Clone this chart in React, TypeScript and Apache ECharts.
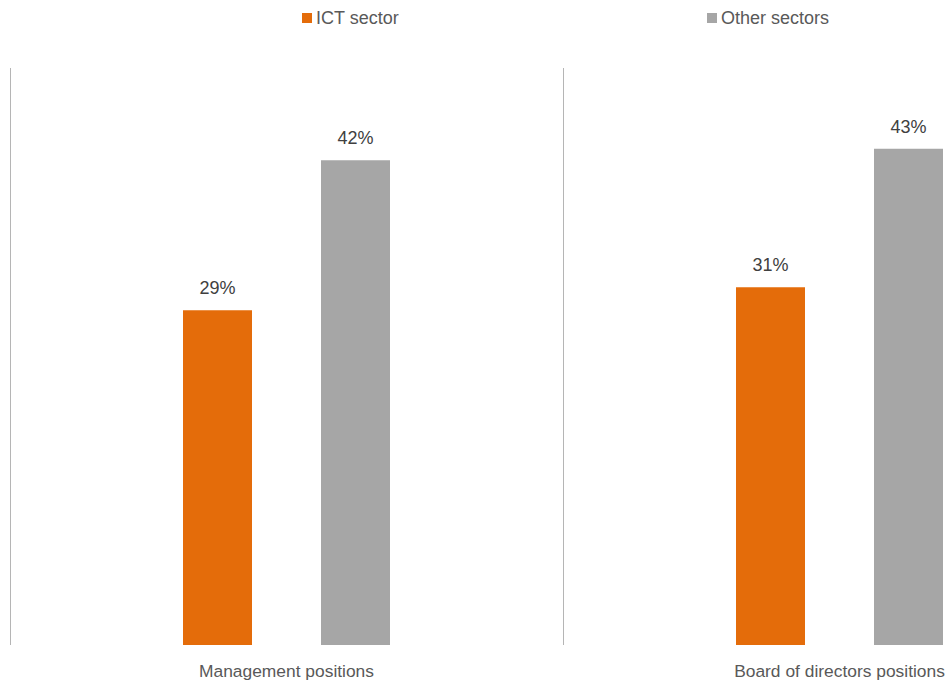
import React, { useEffect, useRef } from "react";
import * as echarts from "echarts";

const categories = ["Management positions", "Board of directors positions"];
const ictValues = [29, 31];
const otherValues = [42, 43];
const seriesNames = ["ICT sector", "Other sectors"];

const FONT = "'Liberation Sans', Arial, sans-serif";

export default function App() {
  const ref = useRef<HTMLDivElement>(null);
  useEffect(() => {
    if (!ref.current) return;
    const chart = echarts.init(ref.current, null, { renderer: "svg" });
    const labelStyle = {
      show: true,
      position: "top" as const,
      distance: 13,
      formatter: "{c}%",
      fontFamily: FONT,
      fontSize: 18,
      color: "#404040",
    };
    chart.setOption({
      animation: false,
      textStyle: { fontFamily: FONT },
      legend: [
        {
          data: [seriesNames[0]],
          left: 297,
          top: 4,
          itemWidth: 10,
          itemHeight: 10,
          itemGap: 5,
          icon: "rect",
          textStyle: { fontFamily: FONT, fontSize: 18, color: "#595959", padding: [0, 0, 0, -1] },
        },
        {
          data: [seriesNames[1]],
          left: 702,
          top: 4,
          itemWidth: 10,
          itemHeight: 10,
          icon: "rect",
          textStyle: { fontFamily: FONT, fontSize: 18, color: "#595959", padding: [0, 0, 0, -1] },
        },
      ],
      grid: {
        left: 10,
        top: 68,
        bottom: 38,
        width: 1106,
        containLabel: false,
        outerBoundsMode: "none",
      },
      xAxis: {
        type: "category",
        data: categories,
        boundaryGap: true,
        axisLine: { show: false },
        axisTick: { show: false },
        splitLine: { show: true, lineStyle: { color: "#b5b5b5", width: 1 } },
        axisLabel: { fontFamily: FONT, fontSize: 17.4, color: "#595959", margin: 17 },
      },
      yAxis: {
        type: "value",
        min: 0,
        max: 50,
        show: false,
        splitLine: { show: false },
      },
      series: [
        {
          name: seriesNames[0],
          type: "bar",
          data: ictValues,
          barWidth: 69,
          barGap: "100%",
          itemStyle: { color: "#E46C0A" },
          label: labelStyle,
        },
        {
          name: seriesNames[1],
          type: "bar",
          data: otherValues,
          barWidth: 69,
          barGap: "100%",
          itemStyle: { color: "#A6A6A6" },
          label: labelStyle,
        },
      ],
    });
    return () => chart.dispose();
  }, []);
  return (
    <div
      ref={ref}
      style={{ position: "fixed", left: 0, top: 0, width: 947, height: 683, background: "#fff" }}
    />
  );
}
